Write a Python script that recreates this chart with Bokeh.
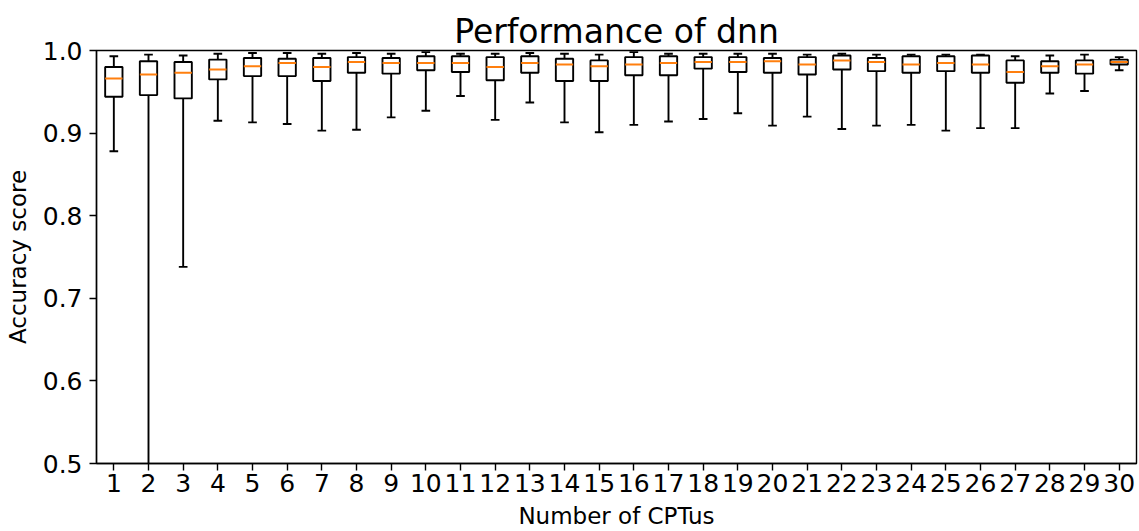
from bokeh.plotting import figure
from bokeh.models import FixedTicker, ColumnDataSource, Range1d
from bokeh.embed import file_html
from bokeh.resources import INLINE

# Number of CPTus used for training (one box per count)
n_cptus = list(range(1, 31))

# Box statistics of the accuracy score for each CPTu count
whisker_low = [0.878, 0.430, 0.738, 0.915, 0.913, 0.911, 0.903, 0.904, 0.919, 0.927,
               0.945, 0.916, 0.937, 0.913, 0.901, 0.910, 0.914, 0.917, 0.924, 0.909,
               0.920, 0.905, 0.909, 0.910, 0.903, 0.906, 0.906, 0.948, 0.951, 0.976]
q1 = [0.944, 0.946, 0.942, 0.965, 0.969, 0.969, 0.963, 0.973, 0.972, 0.976,
      0.974, 0.964, 0.973, 0.963, 0.963, 0.970, 0.970, 0.978, 0.974, 0.973,
      0.971, 0.977, 0.975, 0.973, 0.975, 0.973, 0.961, 0.973, 0.972, 0.983]
median = [0.966, 0.971, 0.973, 0.977, 0.981, 0.985, 0.980, 0.986, 0.985, 0.985,
          0.985, 0.980, 0.985, 0.983, 0.981, 0.983, 0.985, 0.986, 0.986, 0.987,
          0.983, 0.988, 0.986, 0.983, 0.985, 0.983, 0.974, 0.981, 0.983, 0.986]
q3 = [0.980, 0.987, 0.986, 0.989, 0.991, 0.990, 0.991, 0.992, 0.991, 0.993,
      0.993, 0.992, 0.993, 0.990, 0.988, 0.992, 0.993, 0.992, 0.992, 0.991,
      0.992, 0.994, 0.991, 0.993, 0.993, 0.994, 0.988, 0.987, 0.988, 0.989]
whisker_high = [0.993, 0.995, 0.994, 0.996, 0.997, 0.997, 0.996, 0.997, 0.996, 0.998,
                0.996, 0.996, 0.997, 0.996, 0.995, 0.998, 0.996, 0.996, 0.996, 0.996,
                0.995, 0.996, 0.995, 0.995, 0.995, 0.995, 0.993, 0.994, 0.995, 0.992]

y_ticks = [0.5, 0.6, 0.7, 0.8, 0.9, 1.0]

BOX_HALF = 0.25
CAP_HALF = 0.125
FONT = "DejaVu Sans"
LW = 1.9

src = ColumnDataSource(dict(
    x=n_cptus,
    left=[v - BOX_HALF for v in n_cptus],
    right=[v + BOX_HALF for v in n_cptus],
    cap_l=[v - CAP_HALF for v in n_cptus],
    cap_r=[v + CAP_HALF for v in n_cptus],
    lo=whisker_low, q1=q1, med=median, q3=q3, hi=whisker_high,
))

p = figure(width=1139, height=531, output_backend="svg", toolbar_location=None,
           x_range=Range1d(0.5, 30.5), y_range=Range1d(0.5, 1.0),
           title="Performance of dnn",
           min_border_left=96, min_border_right=3, min_border_top=50, min_border_bottom=67)

# whiskers and caps
p.segment(x0="x", y0="q3", x1="x", y1="hi", source=src, line_color="black", line_width=LW)
p.segment(x0="x", y0="q1", x1="x", y1="lo", source=src, line_color="black", line_width=LW)
p.segment(x0="cap_l", y0="hi", x1="cap_r", y1="hi", source=src, line_color="black", line_width=LW)
p.segment(x0="cap_l", y0="lo", x1="cap_r", y1="lo", source=src, line_color="black", line_width=LW)
# boxes
p.quad(left="left", right="right", bottom="q1", top="q3", source=src,
       fill_color="white", line_color="black", line_width=LW)
# medians
p.segment(x0="left", y0="med", x1="right", y1="med", source=src,
          line_color="#ff7f0e", line_width=2)

p.title.align = "center"
p.title.text_font = FONT
p.title.text_font_size = "33px"
p.title.text_font_style = "normal"
p.title.text_color = "black"
p.title.offset = 0
p.title.standoff = 0

p.xgrid.visible = False
p.ygrid.visible = False
p.outline_line_color = "black"
p.outline_line_width = 1.4
p.background_fill_color = "white"
p.border_fill_color = "white"

p.xaxis.ticker = FixedTicker(ticks=n_cptus)
p.xaxis.major_label_overrides = {v: str(v) for v in n_cptus}
p.yaxis.ticker = FixedTicker(ticks=y_ticks)
p.yaxis.major_label_overrides = {v: f"{v:.1f}" for v in y_ticks}

p.xaxis.axis_label = "Number of CPTus"
p.yaxis.axis_label = "Accuracy score"

for ax in (p.xaxis, p.yaxis):
    ax.axis_line_color = "black"
    ax.axis_line_width = 1.4
    ax.major_tick_line_color = "black"
    ax.major_tick_line_width = 1.4
    ax.major_tick_out = 7
    ax.major_tick_in = 0
    ax.minor_tick_line_color = None
    ax.major_label_text_font = FONT
    ax.major_label_text_font_size = "25px"
    ax.major_label_text_color = "black"
    ax.axis_label_text_font = FONT
    ax.axis_label_text_font_size = "23px"
    ax.axis_label_text_font_style = "normal"
    ax.axis_label_text_color = "black"

p.xaxis.major_label_standoff = 3
p.yaxis.major_label_standoff = 7
p.xaxis.axis_label_standoff = 8
p.yaxis.axis_label_standoff = 9

open("out.html", "w").write(file_html(p, INLINE))
